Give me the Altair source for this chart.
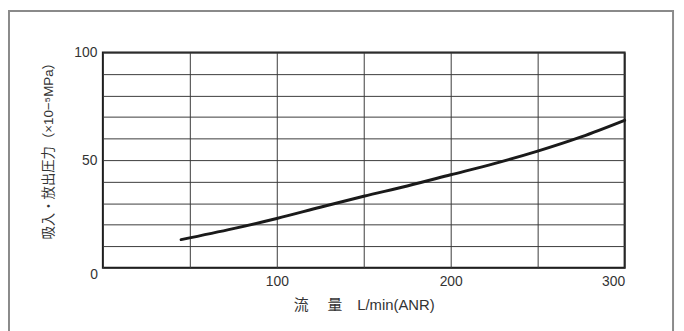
import altair as alt
import pandas as pd

# Curve data
flow = [45, 75, 100, 125, 150, 175, 200, 225, 250, 275, 300]
pressure = [13.1, 18.2, 22.9, 28.1, 33.2, 38.0, 43.2, 48.4, 54.2, 60.8, 68.5]

x_grid = [0, 50, 100, 150, 200, 250, 300]
y_grid = [0, 10, 20, 30, 40, 50, 60, 70, 80, 90, 100]
x_labels = [100, 200, 300]
y_labels = [50, 100]
origin_label = ["0"]

x_title = "流　 量　L/min(ANR)"
y_title = "吸入・放出圧力（×10−⁵MPa）"

NUM_FONT = "Liberation Sans"
MIX_FONT = "Liberation Sans, Noto Sans CJK JP"

df = pd.DataFrame({"flow": flow, "pressure": pressure})

xs = alt.Scale(domain=[0, 300], nice=False, zero=False)
ys = alt.Scale(domain=[0, 100], nice=False, zero=False)

x_label_expr = "indexof([" + ",".join(str(v) for v in x_labels) + "], datum.value) >= 0 ? datum.label : ''"
y_label_expr = "indexof([" + ",".join(str(v) for v in y_labels) + "], datum.value) >= 0 ? datum.label : ''"

x_axis = alt.Axis(
    values=x_grid, labelExpr=x_label_expr, grid=True, gridColor="#3a3a3a",
    gridWidth=1, gridOpacity=1, ticks=False, domain=False, labelOverlap=False,
    labelFont=NUM_FONT, labelFontSize=14, labelColor="#333", labelPadding=7,
    title=x_title, titleFont=MIX_FONT, titleFontSize=15, titleFontWeight="normal",
    titleColor="#333", titlePadding=9,
)
y_axis = alt.Axis(
    values=y_grid, labelExpr=y_label_expr, grid=True, gridColor="#3a3a3a",
    gridWidth=1, gridOpacity=1, ticks=False, domain=False, labelOverlap=False,
    labelFont=NUM_FONT, labelFontSize=14, labelColor="#333", labelPadding=6,
    title=y_title, titleFont=MIX_FONT, titleFontSize=13.5, titleFontWeight="normal",
    titleColor="#333", titleAngle=-90, titleAlign="center", titleBaseline="middle",
    titleX=-55, titleY=96,
)

line = alt.Chart(df).mark_line(
    color="#1a1a1a", strokeWidth=3, interpolate="monotone", strokeCap="round"
).encode(
    x=alt.X("flow:Q", scale=xs, axis=x_axis),
    y=alt.Y("pressure:Q", scale=ys, axis=y_axis),
)

origin = pd.DataFrame({"flow": [0], "pressure": [0], "t": origin_label})
zero_label = alt.Chart(origin).mark_text(
    font=NUM_FONT, fontSize=14, color="#333", dx=-9, dy=7, align="center", baseline="middle"
).encode(
    x=alt.X("flow:Q", scale=xs, axis=x_axis),
    y=alt.Y("pressure:Q", scale=ys, axis=y_axis),
    text="t:N",
)

frame = alt.Chart(pd.DataFrame({"a": [0]})).mark_rect(
    fill=None, stroke="#8a8a8a", strokeWidth=2
).encode(
    x=alt.value(-95), x2=alt.value(577), y=alt.value(-42), y2=alt.value(320)
)

chart = alt.layer(frame, line, zero_label).properties(
    width=528, height=218,
    autosize=alt.AutoSizeParams(type="none"),
    padding={"left": 96, "top": 43, "right": 52, "bottom": 62},
    background="white",
).configure_view(stroke="#1a1a1a", strokeWidth=2)

chart.save("out.html", embed_options={"renderer": "svg", "actions": False})
